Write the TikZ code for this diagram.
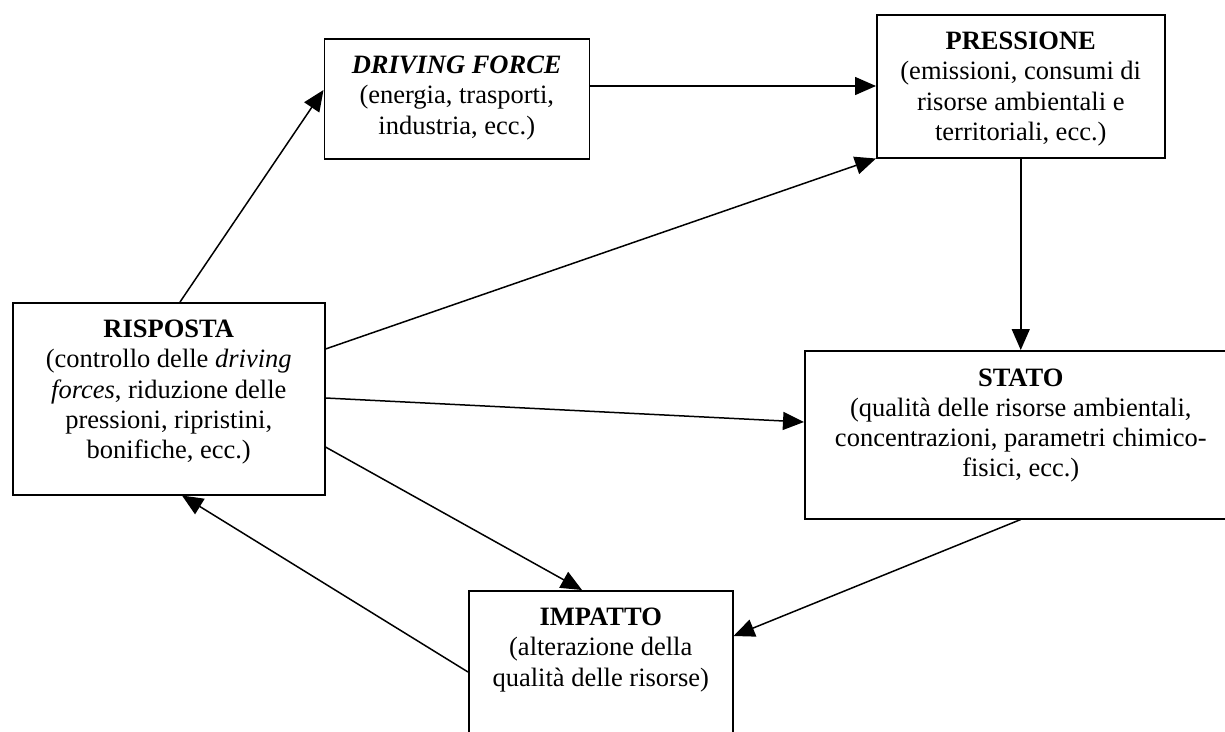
\documentclass[tikz,border=0pt]{standalone}
\usepackage{fontspec}
\setmainfont{Liberation Serif}
\usetikzlibrary{arrows.meta,calc}
\begin{document}
\begin{tikzpicture}[x=1pt,y=-1pt,
  box/.style={draw, line width=1.5pt, inner sep=0pt, anchor=north west},
  lbl/.style={inner sep=0pt, anchor=base, font=\fontsize{26.5}{30.3}\selectfont},
  arr/.style={line width=1.5pt, -{Triangle[length=21pt,width=18pt]}}]
\useasboundingbox (0,0) rectangle (1225,731);
\clip (0,0) rectangle (1225,731);
% boxes
\node[box, minimum width=265pt, minimum height=120pt] (df) at (323.5,38) {};
\node[box, minimum width=288pt, minimum height=143pt] (press) at (876,14) {};
\node[box, minimum width=312pt, minimum height=192pt] (risp) at (12,302) {};
\node[box, minimum width=432pt, minimum height=168pt] (stato) at (804,350) {};
\node[box, minimum width=264pt, minimum height=180pt] (imp) at (468,590) {};
% texts
\node[lbl] (dft) at ($(df.north)+(0,35.5)$) {\parbox[t]{340pt}{\centering
  \textbf{\textit{DRIVING FORCE}}\\(energia, trasporti,\\industria, ecc.)}};
\node[lbl] (presst) at ($(press.north)+(0,35.5)$) {\parbox[t]{340pt}{\centering
  \textbf{PRESSIONE}\\(emissioni, consumi di\\risorse ambientali e\\territoriali, ecc.)}};
\node[lbl] (rispt) at ($(risp.north)+(0,35.5)$) {\parbox[t]{340pt}{\centering
  \textbf{RISPOSTA}\\(controllo delle \textit{driving}\\\textit{forces}, riduzione delle\\pressioni, ripristini,\\bonifiche, ecc.)}};
\node[lbl] (statot) at ($(stato.north)+(0,36)$) {\parbox[t]{440pt}{\centering
  \textbf{STATO}\\(qualità delle risorse ambientali,\\concentrazioni, parametri chimico-\\fisici, ecc.)}};
\node[lbl] (impt) at ($(imp.north)+(0,35.5)$) {\parbox[t]{340pt}{\centering
  \textbf{IMPATTO}\\(alterazione della\\qualità delle risorse)}};
% connectors
\draw[arr] ($(risp.north west)+(168,0)$) -- ($(df.north west)+(0,52)$);
\draw[arr] ($(df.north east)+(0,48)$) -- ($(press.north west)+(0,72)$);
\draw[arr] ($(risp.north east)+(0,47)$) -- (press.south west);
\draw[arr] (press.south) -- (stato.north);
\draw[arr] ($(risp.north east)+(0,96)$) -- ($(stato.north west)+(0,72)$);
\draw[arr] ($(risp.north east)+(0,145)$) -- ($(imp.north west)+(114,0)$);
\draw[arr] (stato.south) -- ($(imp.north east)+(0,46)$);
\draw[arr] ($(imp.north west)+(0,82)$) -- ($(risp.south west)+(170,0)$);
\end{tikzpicture}
\end{document}
